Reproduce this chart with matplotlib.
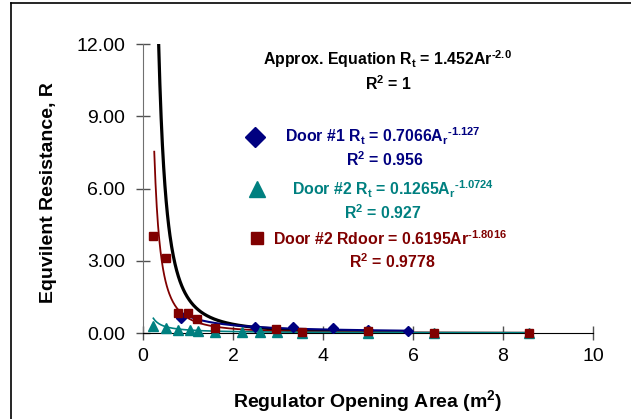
import numpy as np
import matplotlib
matplotlib.use("Agg")
import matplotlib.pyplot as plt
from matplotlib.lines import Line2D

plt.rcParams['font.family'] = ['Liberation Sans', 'DejaVu Sans']
plt.rcParams['mathtext.default'] = 'regular'
plt.rcParams['mathtext.fontset'] = 'custom'
plt.rcParams['mathtext.rm'] = 'Liberation Sans:bold'

# ---- data ----
door1_area = [0.84, 2.49, 3.33, 4.22, 5.0, 5.89]
door1_rt = [0.62, 0.26, 0.24, 0.20, 0.13, 0.10]

door2_area = [0.23, 0.51, 0.77, 1.04, 1.22, 1.6, 2.2, 2.6, 2.98, 3.53, 5.0, 6.47, 8.58]
door2_rt = [0.30, 0.20, 0.14, 0.12, 0.10, 0.05, 0.03, 0.03, 0.03, 0.01, 0.01, 0.0, 0.0]

rdoor_area = [0.23, 0.51, 0.77, 1.0, 1.2, 1.6, 2.95, 3.53, 5.0, 6.47, 8.58]
rdoor_r = [4.02, 3.10, 0.83, 0.83, 0.58, 0.22, 0.15, 0.05, 0.08, 0.02, 0.02]

# fitted power-law trendlines (coefficient, exponent, x-range)
approx_fit = (1.452, -2.0, 0.30, 5.9)
door1_fit = (0.7066, -1.127, 0.84, 5.89)
door2_fit = (0.1265, -1.0724, 0.23, 8.58)
rdoor_fit = (0.6195, -1.8016, 0.25, 8.58)

y_ticks = [0, 3, 6, 9, 12]
x_ticks = [0, 2, 4, 6, 8, 10]

navy = '#000080'
teal = '#008080'
maroon = '#800000'

W, H = 631, 419
fig = plt.figure(figsize=(W / 100, H / 100), dpi=100)
ax = fig.add_axes([143 / W, 1 - 333 / H, 450 / W, 289 / H])


def curve(fit):
    a, b, x0, x1 = fit
    x = np.linspace(x0, x1, 600)
    return x, a * x ** b


x, y = curve(approx_fit)
ax.plot(x, y, color='black', lw=2.3, zorder=3)
x, y = curve(rdoor_fit)
ax.plot(x, y, color=maroon, lw=1.3, zorder=3)
x, y = curve(door1_fit)
ax.plot(x, y, color=navy, lw=1.5, zorder=3)
x, y = curve(door2_fit)
ax.plot(x, y, color=teal, lw=1.2, zorder=3)

ax.plot(door1_area, door1_rt, linestyle='none', marker='D', ms=5, color=navy, zorder=4, clip_on=False)
ax.plot(door2_area, door2_rt, linestyle='none', marker='^', ms=6.5, color=teal, zorder=4, clip_on=False)
ax.plot(rdoor_area, rdoor_r, linestyle='none', marker='s', ms=6.3, color=maroon, zorder=5, clip_on=False)

ax.set_xlim(0, 10)
ax.set_ylim(0, 12)
ax.set_xticks(x_ticks)
ax.set_xticklabels([str(v) for v in x_ticks])
ax.set_yticks(y_ticks)
ax.set_yticklabels([f"{v:.2f}" for v in y_ticks])
for s in ['top', 'right']:
    ax.spines[s].set_visible(False)
ax.spines['left'].set_color('#707070')
ax.spines['bottom'].set_color('black')
ax.tick_params(direction='inout', length=10, width=1, color='#505050', labelsize=14)
ax.tick_params(axis='y', pad=8)
ax.tick_params(axis='x', pad=6)

fig.text(49 / W, 1 - 193 / H, 'Equvilent Resistance, R', rotation=90, ha='center', va='center',
         fontsize=14, fontweight='bold')
fig.text(368 / W, 1 - 401 / H, 'Regulator Opening Area (m$^2$)', ha='center', va='center',
         fontsize=14, fontweight='bold')

fs = 11.4
M = r'$^{\text{-}'
fig.text(387 / W, 1 - 59 / H, 'Approx. Equation R$_t$ = 1.452Ar' + M + '2.0}$', ha='center', va='center',
         fontsize=fs, fontweight='bold', color='black')
fig.text(388 / W, 1 - 84 / H, 'R$^2$ = 1', ha='center', va='center', fontsize=fs, fontweight='bold', color='black')

fig.text(383 / W, 1 - 136 / H, 'Door #1 R$_t$ = 0.7066A$_r$' + M + '1.127}$', ha='center', va='center',
         fontsize=fs, fontweight='bold', color=navy)
fig.text(385 / W, 1 - 160 / H, 'R$^2$ = 0.956', ha='center', va='center', fontsize=fs, fontweight='bold', color=navy)

fig.text(393 / W, 1 - 189 / H, 'Door #2 R$_t$ = 0.1265A$_r$' + M + '1.0724}$', ha='center', va='center',
         fontsize=fs, fontweight='bold', color=teal)
fig.text(383 / W, 1 - 213 / H, 'R$^2$ = 0.927', ha='center', va='center', fontsize=fs, fontweight='bold', color=teal)

fig.text(390 / W, 1 - 239 / H, 'Door #2 Rdoor = 0.6195Ar' + M + '1.8016}$', ha='center', va='center',
         fontsize=fs, fontweight='bold', color=maroon)
fig.text(392 / W, 1 - 262 / H, 'R$^2$ = 0.9778', ha='center', va='center', fontsize=fs, fontweight='bold', color=maroon)

# legend-style key markers
fig.add_artist(Line2D([255 / W], [1 - 137 / H], marker='D', ms=10, color=navy, linestyle='none'))
fig.add_artist(Line2D([257 / W], [1 - 189 / H], marker='^', ms=12, color=teal, linestyle='none'))
fig.add_artist(Line2D([257 / W], [1 - 238 / H], marker='s', ms=9, color=maroon, linestyle='none'))

# chart border (top and left visible)
fig.add_artist(Line2D([11 / W, 11 / W], [0, 1 - 3 / H], color='black', lw=1.2))
fig.add_artist(Line2D([11 / W, 1], [1 - 3 / H, 1 - 3 / H], color='black', lw=1.2))

fig.savefig('out.png', dpi=100)
